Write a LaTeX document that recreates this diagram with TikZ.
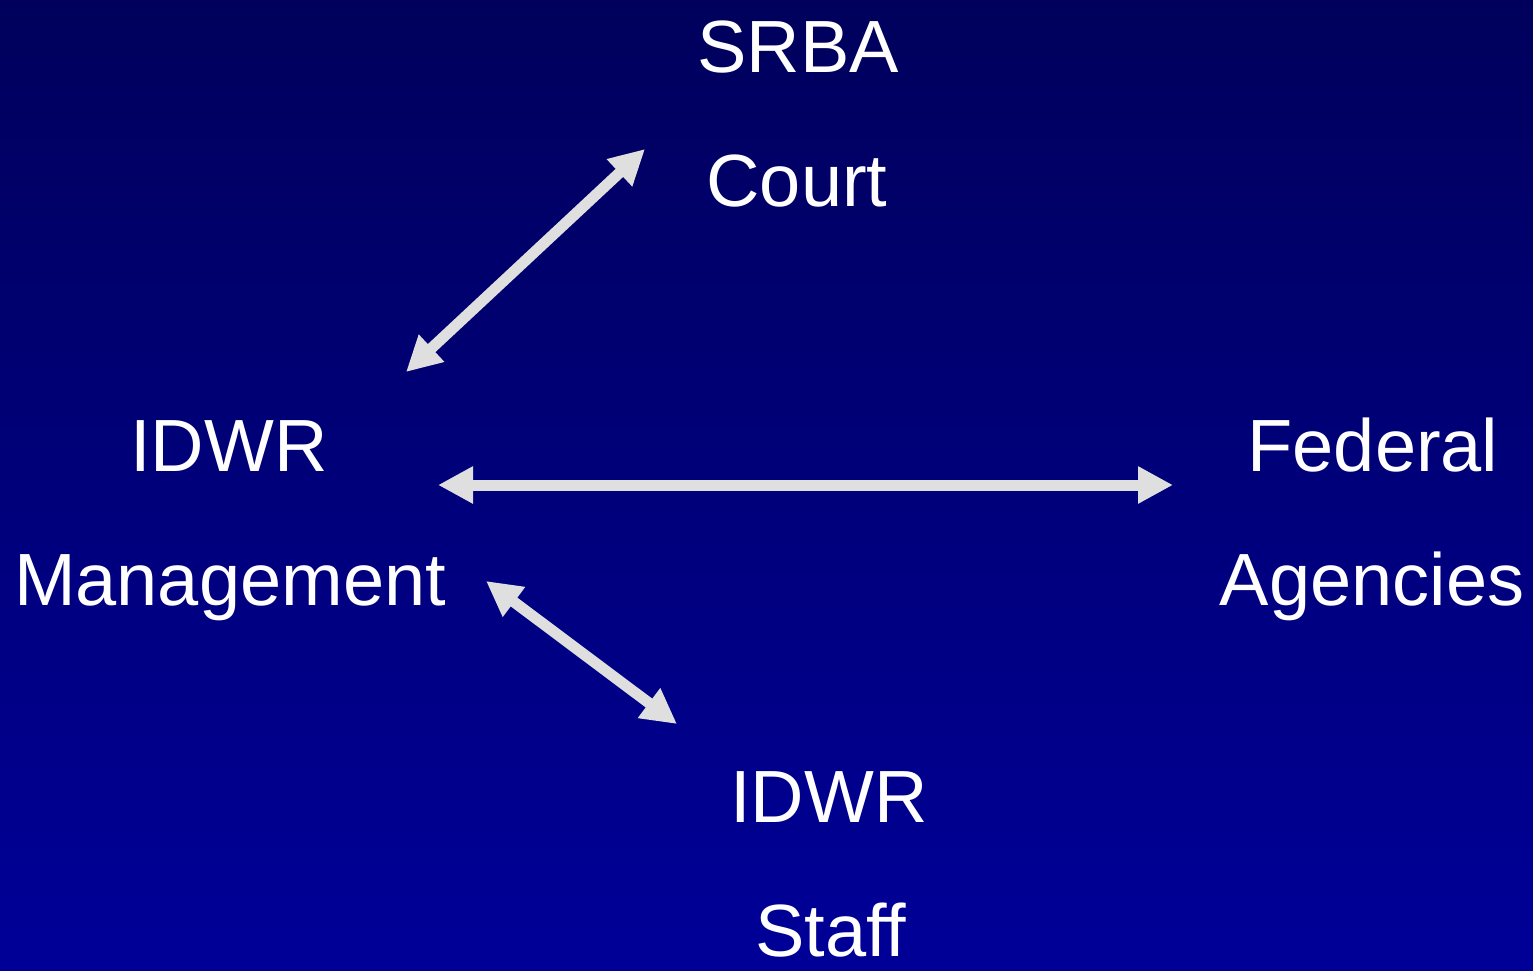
\documentclass[tikz,border=0pt]{standalone}
\usepackage{fontspec}
\setmainfont{Liberation Sans}
\usetikzlibrary{arrows.meta}
\definecolor{bgtop}{HTML}{00005C}
\definecolor{bgbot}{HTML}{000098}
\definecolor{arrowgray}{HTML}{DFDFDF}
\tikzset{
  lbl/.style={text=white, anchor=base, inner sep=0pt, font=\fontsize{74}{89}\selectfont},
  link/.style={draw=arrowgray, line width=11pt, {Triangle[length=35pt,width=35pt]}-{Triangle[length=35pt,width=35pt]}}
}
\begin{document}
\begin{tikzpicture}[x=1pt,y=-1pt]
\useasboundingbox (0,0) rectangle (1533,970);
\shade[top color=bgtop, bottom color=bgbot] (0,0) rectangle (1533,970);
\node[lbl] (srba) at (798,72) {SRBA};
\node[lbl] (court) at (797,206) {Court};
\node[lbl] (idwrm) at (229,471) {IDWR};
\node[lbl] (mgmt) at (230,605) {Management};
\node[lbl] (fed) at (1373,471) {Federal};
\node[lbl] (agen) at (1372,605) {Agencies};
\node[lbl] (idwrs) at (829,822) {IDWR};
\node[lbl] (staff) at (831,956) {Staff};
\coordinate (a1) at (406,372);
\coordinate (a2) at (645,149);
\coordinate (b1) at (438,485);
\coordinate (b2) at (1173,485);
\coordinate (c1) at (486,581);
\coordinate (c2) at (677,724);
\draw[link] (a1) -- (a2);
\draw[link] (b1) -- (b2);
\draw[link] (c1) -- (c2);
\end{tikzpicture}
\end{document}
